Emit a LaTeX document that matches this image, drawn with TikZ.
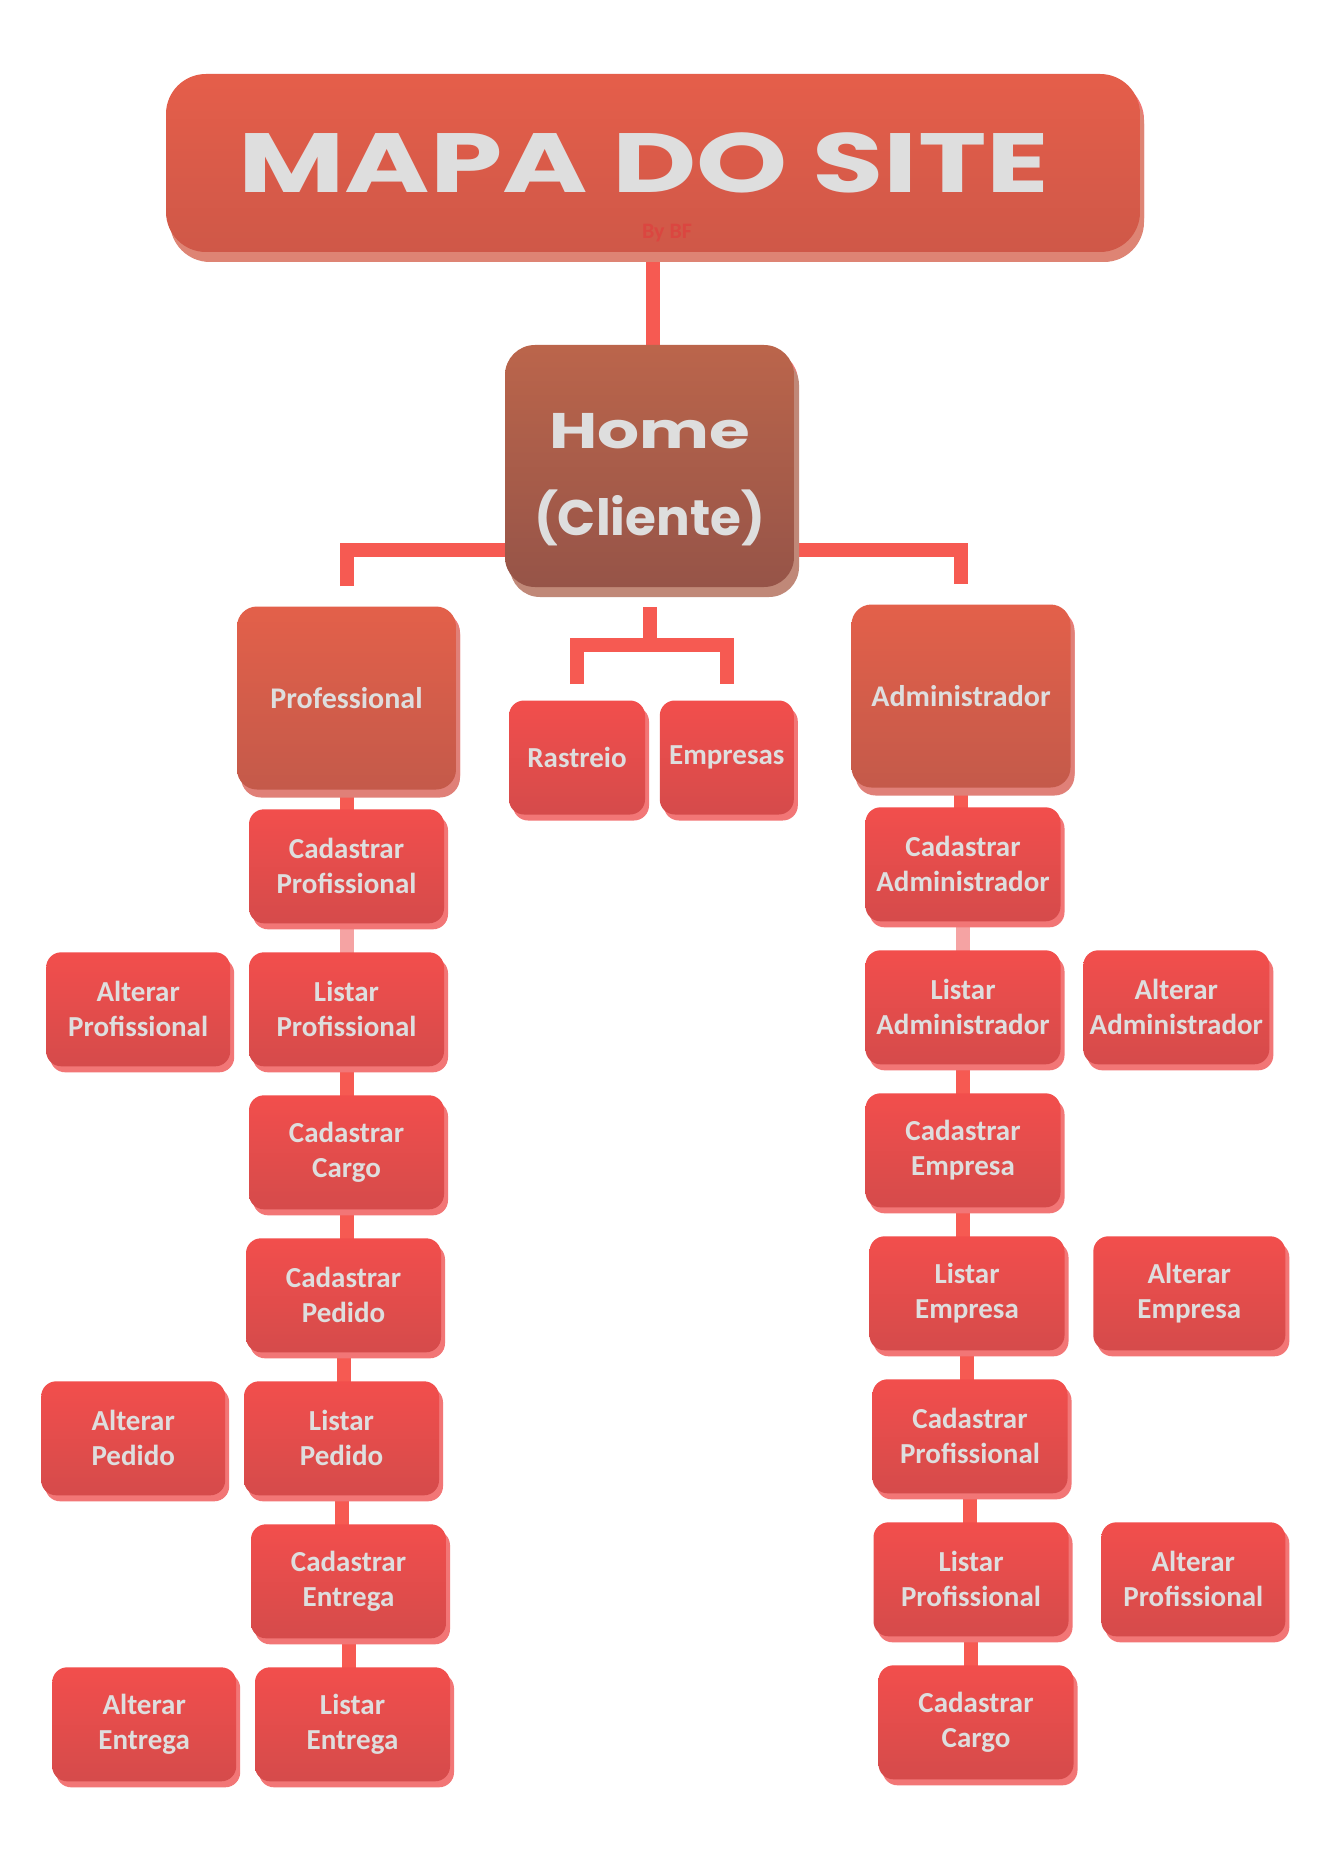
\documentclass[tikz,border=0pt]{standalone}
\usepackage{fontspec}
\setmainfont{Carlito}
\newfontfamily\headfont{Poppins}[FakeStretch=1.38]
\newfontfamily\homefont{Poppins}[FakeStretch=1.32]
\newfontfamily\clientfont{Poppins}
\usetikzlibrary{positioning,shadows,backgrounds}

\definecolor{txt}{HTML}{DEDEDE}
\definecolor{titletop}{HTML}{E55E4A}
\definecolor{titlebot}{HTML}{CF5848}
\definecolor{titleshade}{HTML}{DE8474}
\definecolor{hometop}{HTML}{BB654B}
\definecolor{homebot}{HTML}{965448}
\definecolor{homeshade}{HTML}{C08878}
\definecolor{grouptop}{HTML}{E3604A}
\definecolor{groupbot}{HTML}{C45A4A}
\definecolor{groupshade}{HTML}{E08078}
\definecolor{itemtop}{HTML}{F24E4C}
\definecolor{itembot}{HTML}{D54B4B}
\definecolor{itemshade}{HTML}{F27676}
\definecolor{barred}{HTML}{F65A52}
\definecolor{barpale}{HTML}{F5A3A3}
\definecolor{bytxt}{HTML}{DB4640}

\begin{document}
\begin{tikzpicture}[
  x=0.5pt, y=0.5pt,
  item/.style={rounded corners=7.5pt, minimum width=97.5pt, minimum height=57pt,
    inner sep=0pt, align=center, text=txt, top color=itemtop, bottom color=itembot,
    font=\bfseries\fontsize{14.5}{17.5}\selectfont,
    drop shadow={shadow xshift=2pt, shadow yshift=-3pt, fill=itemshade, opacity=1}},
  alt/.style={item, minimum width=92pt},
  group/.style={item, rounded corners=10pt, minimum width=109.5pt, minimum height=91.5pt,
    top color=grouptop, bottom color=groupbot, font=\bfseries\fontsize{15}{18}\selectfont,
    drop shadow={shadow xshift=2pt, shadow yshift=-4pt, fill=groupshade, opacity=1}},
  homebox/.style={item, rounded corners=15pt, minimum width=144.5pt, minimum height=121pt,
    top color=hometop, bottom color=homebot, font=\bfseries\fontsize{25}{43.5}\selectfont,
    drop shadow={shadow xshift=2.5pt, shadow yshift=-5pt, fill=homeshade, opacity=1}},
  titlebox/.style={item, rounded corners=20pt, minimum width=487pt, minimum height=89pt,
    top color=titletop, bottom color=titlebot, font=\headfont\bfseries\fontsize{42}{42}\selectfont,
    drop shadow={shadow xshift=2pt, shadow yshift=-5pt, fill=titleshade, opacity=1}},
  bar/.style={line width=7pt, draw=barred},
  node distance=14.1pt and 9pt
]
\useasboundingbox (0,0) rectangle (1336,-1871);

\node[titlebox] (title) at (653,-163) {MAPA DO SITE\hspace*{9pt}};
\node[text=bytxt, font=\bfseries\fontsize{11}{11}\selectfont] (by) at (667,-233) {By BF};

\node[homebox, text height=75pt] (home) at (649.5,-466) {{\homefont Home}\\{\clientfont (Cliente)}};

\node[group] (prof) at (346.5,-698) {Professional};
\node[group] (admin) at (961,-696) {Administrador};

\node[item, minimum width=68pt] (rast) at (577,-757.5) {Rastreio};
\node[item, minimum width=67pt] (emp) [right=7pt of rast] {Empresas};

% professional
\node[item] (cprof) [below=9.5pt of prof] {Cadastrar\\Profissional};
\node[item] (lprof) [below=of cprof] {Listar\\Profissional};
\node[alt] (aprof) [left=of lprof] {Alterar\\Profissional};
\node[item] (ccargo) [below=of lprof] {Cadastrar\\Cargo};
\node[item] (cped) [below=of ccargo, xshift=-1.5pt] {Cadastrar\\Pedido};
\node[item] (lped) [below=of cped, xshift=-1pt] {Listar\\Pedido};
\node[alt] (aped) [left=of lped] {Alterar\\Pedido};
\node[item] (cent) [below=of lped, xshift=3.5pt] {Cadastrar\\Entrega};
\node[item] (lent) [below=of cent, xshift=2pt] {Listar\\Entrega};
\node[alt] (aent) [left=of lent] {Alterar\\Entrega};

% administrador
\node[item] (cadm) [below=9.5pt of admin, xshift=1pt] {Cadastrar\\Administrador};
\node[item] (ladm) [below=of cadm] {Listar\\Administrador};
\node[alt, minimum width=93pt] (aadm) [right=11pt of ladm] {Alterar\\Administrador};
\node[item] (cemp) [below=of ladm] {Cadastrar\\Empresa};
\node[item] (lemp) [below=of cemp, xshift=2pt] {Listar\\Empresa};
\node[alt, minimum width=96pt] (aemp) [right=14pt of lemp] {Alterar\\Empresa};
\node[item] (cprof2) [below=of lemp, xshift=1.5pt] {Cadastrar\\Profissional};
\node[item] (lprof2) [below=of cprof2, xshift=0.5pt] {Listar\\Profissional};
\node[alt] (aprof2) [right=16pt of lprof2] {Alterar\\Profissional};
\node[item] (ccargo2) [below=of lprof2, xshift=2.5pt] {Cadastrar\\Cargo};

\coordinate (pl) at ([yshift=10pt]prof.north);
\coordinate (pr) at ([yshift=10pt]admin.north);
\coordinate (hs) at ([yshift=-10pt]home.south);
\coordinate (mid) at ([yshift=-29pt]home.south);
\coordinate (rl) at ([yshift=8pt]rast.north);
\coordinate (el) at ([yshift=8pt]emp.north);

\begin{pgfonlayer}{background}
\fill[white] (0,0) rectangle (1336,-1871);
\draw[bar] (title) -- (title |- home);
\draw[bar] (pl) |- ([yshift=18.5pt]home.south) -| (pr);
\draw[bar] (hs) -- (mid);
\draw[bar] (rl) |- (mid) -| (el);

\draw[bar] (prof) -- (prof |- cprof);
\draw[bar, draw=barpale] (cprof) -- (cprof |- lprof);
\draw[bar] (lprof) -- (lprof |- ccargo);
\draw[bar] (ccargo) -- (ccargo |- cped);
\draw[bar] (cped) -- (cped |- lped);
\draw[bar] (lped) -- (lped |- cent);
\draw[bar] (cent) -- (cent |- lent);

\draw[bar] (admin) -- (admin |- cadm);
\draw[bar, draw=barpale] (cadm) -- (cadm |- ladm);
\draw[bar] (ladm) -- (ladm |- cemp);
\draw[bar] (cemp) -- (cemp |- lemp);
\draw[bar] (lemp) -- (lemp |- cprof2);
\draw[bar] (cprof2) -- (cprof2 |- lprof2);
\draw[bar] (lprof2) -- (lprof2 |- ccargo2);
\end{pgfonlayer}
\end{tikzpicture}
\end{document}
